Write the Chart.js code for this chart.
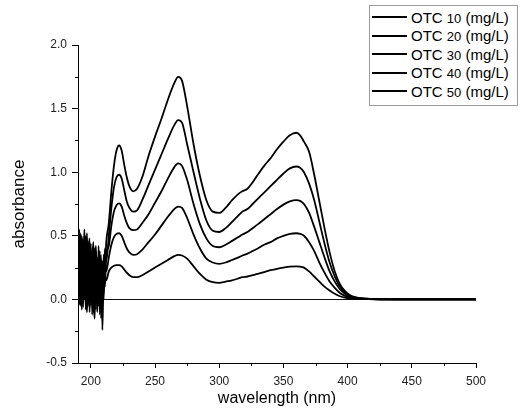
<!DOCTYPE html>
<html><head><meta charset="utf-8">
<script src="https://cdn.jsdelivr.net/npm/chart.js@4"></script>
<style>
html,body{margin:0;padding:0;background:#fff;}
#wrap{position:relative;width:521px;height:413px;}
#legend{position:absolute;left:369px;top:5px;width:147px;height:99px;border:1px solid #9a9a9a;background:#fff;font-family:"Liberation Sans",Arial,sans-serif;color:#000;}
.row{position:absolute;left:0;height:18px;display:flex;align-items:center;white-space:nowrap;}
.ln{display:inline-block;width:35px;height:2px;background:#000;margin-left:2px;margin-right:4px;}
.tx{font-size:15px;font-weight:normal;}
.num{font-size:13px;}
</style></head>
<body><div id="wrap"><canvas id="c" width="521" height="413"></canvas><div id="legend"></div></div>
<script>
const wavelengths = [190,191,192,193,194,195,196,197,198,199,200,201,202,203,204,205,206,207,208,209,210,211,212,
  214,216,218,220,222,224,226,228,230,233,236,240,245,250,255,260,265,268,271,275,280,285,290,295,300,
  305,310,315,318,322,326,330,335,340,345,350,355,360,363,366,370,374,378,382,386,390,394,398,402,406,
  410,415,420,430,440,450,475,500];
const concentrations = [10,20,30,40,50];
const otc10 = [0.05,0.38,0.15,-0.08,0.22,0.55,0.10,-0.10,0.20,0.05,0.35,0.00,0.30,0.10,-0.02,0.15,0.30,0.05,0.20,-0.05,0.12,0.18,0.15,
  0.22,0.25,0.265,0.27,0.27, 0.26,0.235,0.21,0.19,0.175, 0.175,0.19,0.22,0.25,0.28, 0.31,0.34,0.35,0.345,0.32,
  0.26,0.20,0.155,0.135,0.13, 0.14,0.15,0.165,0.175,0.18, 0.19,0.20,0.215,0.23,0.24, 0.25,0.258,0.26,0.257,0.25,
  0.22,0.18,0.14,0.10,0.07, 0.045,0.025,0.013,0.007,0.004, 0.003,0.002,0.001,0.0,0.0, 0,0,0];
const otc20 = [0.52,0.20,0.00,0.15,-0.06,0.30,0.48,0.12,-0.05,0.38,0.05,0.15,-0.10,0.28,0.42,0.00,0.20,-0.12,0.10,0.25,0.00,0.30,0.22,
  0.33,0.43,0.49,0.515,0.52, 0.50,0.45,0.40,0.37,0.35, 0.355,0.39,0.45,0.51,0.58, 0.65,0.71,0.73,0.72,0.64,
  0.51,0.40,0.32,0.29,0.28, 0.29,0.31,0.33,0.345,0.36, 0.38,0.40,0.43,0.45,0.48, 0.50,0.515,0.52,0.515,0.50,
  0.45,0.38,0.29,0.21,0.14, 0.09,0.05,0.028,0.015,0.008, 0.005,0.003,0.002,0.001,0.0, 0,0,0];
const otc30 = [0.30,-0.04,0.25,0.50,0.05,0.42,-0.08,0.30,0.45,-0.10,0.22,0.40,0.00,-0.15,0.30,0.20,-0.05,0.25,0.35,-0.24,0.20,0.10,0.35,
  0.42,0.58,0.69,0.74,0.755, 0.73,0.66,0.60,0.56,0.545, 0.55,0.60,0.67,0.76,0.85, 0.95,1.04,1.07,1.05,0.94,
  0.75,0.59,0.48,0.42,0.41, 0.43,0.46,0.49,0.51,0.53, 0.56,0.59,0.63,0.67,0.71, 0.745,0.77,0.78,0.775,0.75,
  0.68,0.57,0.45,0.33,0.22, 0.14,0.08,0.045,0.024,0.012, 0.007,0.004,0.002,0.001,0.0, 0,0,0];
const otc40 = [0.10,0.55,-0.05,0.35,0.48,0.00,0.25,0.52,0.08,0.15,0.44,-0.12,0.20,0.40,-0.08,0.33,0.10,0.38,-0.15,0.30,0.15,0.40,0.30,
  0.50,0.72,0.88,0.96,0.98, 0.95,0.86,0.77,0.72,0.69, 0.70,0.78,0.90,1.02,1.14, 1.26,1.37,1.41,1.39,1.22,
  1.00,0.79,0.62,0.54,0.53, 0.56,0.61,0.66,0.69,0.71, 0.75,0.79,0.84,0.89,0.94, 0.99,1.03,1.045,1.035,1.00,
  0.91,0.78,0.61,0.44,0.29, 0.18,0.10,0.055,0.028,0.014, 0.008,0.005,0.003,0.001,0.0, 0,0,0];
const otc50 = [0.45,0.05,0.52,-0.02,0.40,0.10,0.50,0.00,0.35,0.48,-0.05,0.30,0.45,0.05,0.38,-0.10,0.42,0.12,0.30,0.02,0.35,0.25,0.45,
  0.60,0.85,1.05,1.17,1.21, 1.17,1.06,0.96,0.89,0.85, 0.87,0.96,1.13,1.28,1.42, 1.57,1.70,1.75,1.72,1.52,
  1.22,0.97,0.78,0.69,0.68, 0.72,0.78,0.83,0.85,0.87, 0.92,0.98,1.05,1.11,1.18, 1.24,1.29,1.31,1.29,1.24,
  1.16,0.98,0.77,0.56,0.37, 0.22,0.12,0.065,0.033,0.017, 0.01,0.006,0.004,0.002,0.001, 0,0,0];
const seriesValues = [otc10, otc20, otc30, otc40, otc50];
const xTicks = [200,250,300,350,400,450,500];
const yTicks = [-0.5,0.0,0.5,1.0,1.5,2.0];
const xMinorTicks = [225,275,325,375,425,475];
const yMinorTicks = [-0.25,0.25,0.75,1.25,1.75];

const FONT = '"Liberation Sans", Arial, sans-serif';

const minorTicks = {
  id: 'minorTicks',
  afterDraw(chart) {
    const {ctx, chartArea} = chart;
    const x = chart.scales.x, y = chart.scales.y;
    ctx.save();
    ctx.strokeStyle = '#000';
    ctx.lineWidth = 1;
    ctx.beginPath();
    xMinorTicks.forEach(v => {
      const px = Math.round(x.getPixelForValue(v)) + 0.5;
      ctx.moveTo(px, chartArea.bottom);
      ctx.lineTo(px, chartArea.bottom + 3);
    });
    yMinorTicks.forEach(v => {
      const py = Math.round(y.getPixelForValue(v)) + 0.5;
      ctx.moveTo(chartArea.left, py);
      ctx.lineTo(chartArea.left - 3, py);
    });
    ctx.stroke();
    ctx.restore();
  }
};

const datasets = concentrations.map((c, k) => ({
  label: 'OTC ' + c + ' (mg/L)',
  data: wavelengths.map((w, i) => ({x: w, y: seriesValues[k][i]})),
  borderColor: '#000',
  borderWidth: 1.8,
  pointRadius: 0,
  fill: false,
  cubicInterpolationMode: 'monotone'
}));

const chart = new Chart(document.getElementById('c'), {
  type: 'line',
  data: {datasets},
  plugins: [minorTicks],
  options: {
    responsive: false,
    animation: false,
    events: [],
    layout: {padding: {top: 45, right: 45, left: 0, bottom: 0}},
    plugins: {legend: {display: false}, tooltip: {enabled: false}},
    scales: {
      x: {
        type: 'linear', min: 190, max: 500,
        afterBuildTicks: s => { s.ticks = xTicks.map(v => ({value: v})); },
        afterFit: s => { s.height = 50; },
        grid: {drawOnChartArea: false, tickLength: 5, tickColor: '#000', tickWidth: 1},
        border: {color: '#000', width: 1},
        ticks: {font: {family: FONT, size: 12}, color: '#222', padding: 6, maxRotation: 0, autoSkip: false},
        title: {display: true, text: 'wavelength (nm)', font: {family: FONT, size: 16}, color: '#000', padding: {top: 0, bottom: 5}}
      },
      y: {
        type: 'linear', min: -0.5, max: 2.0,
        afterBuildTicks: s => { s.ticks = yTicks.map(v => ({value: v})); },
        afterFit: s => { s.width = 78; },
        grid: {
          color: c => (c.tick && c.tick.value === 0) ? '#111' : 'rgba(0,0,0,0)',
          lineWidth: 1, tickLength: 6, tickColor: '#000', tickWidth: 1
        },
        border: {color: '#000', width: 1},
        ticks: {font: {family: FONT, size: 12}, color: '#222', padding: 5, autoSkip: false,
          callback: v => Number(v).toFixed(1)},
        title: {display: true, text: 'absorbance', font: {family: FONT, size: 17}, color: '#000', padding: {top: 9, bottom: 0}}
      }
    }
  }
});

// HTML legend built from the chart's datasets
const legend = document.getElementById('legend');
chart.data.datasets.forEach((ds, i) => {
  const row = document.createElement('div');
  row.className = 'row';
  row.style.top = (2 + i * 18.5) + 'px';
  const ln = document.createElement('span');
  ln.className = 'ln';
  const tx = document.createElement('span');
  tx.className = 'tx';
  const m = ds.label.match(/^(\S+) (\d+) (.*)$/);
  tx.appendChild(document.createTextNode(m[1] + ' '));
  const num = document.createElement('span');
  num.className = 'num';
  num.textContent = m[2];
  tx.appendChild(num);
  tx.appendChild(document.createTextNode(' ' + m[3]));
  row.appendChild(ln);
  row.appendChild(tx);
  legend.appendChild(row);
});
</script>
</body></html>
